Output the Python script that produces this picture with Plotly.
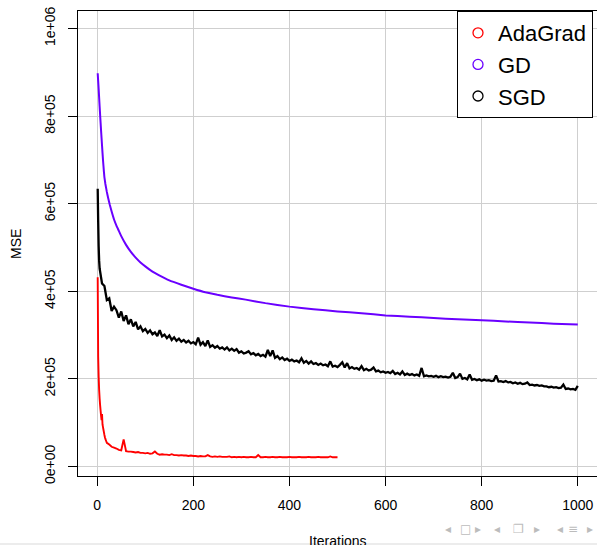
import plotly.graph_objects as go

# ---------------- data (MSE in thousands) ----------------
gd_iter = [1, 2, 3, 4, 5, 6, 7, 8, 9, 10, 11, 12, 13, 14, 15, 17, 20, 23, 26, 30, 35, 40, 45, 50,
           60, 70, 80, 90, 100, 115, 128, 150, 175, 200, 225, 250, 280, 309, 350, 400, 450, 500,
           550, 600, 650, 700, 750, 800, 850, 900, 950, 1000]
gd_mse = [898, 880, 862, 842, 822, 803, 785, 767, 750, 733, 716, 700, 686, 672, 660, 645, 627, 612,
          598, 582, 564, 550, 538, 526, 506, 490, 477, 466, 457, 445, 437, 425, 415, 406, 398, 392,
          386, 381, 373, 365, 359, 354, 350, 345, 342, 339, 336, 334, 331, 329, 326, 324]

sgd_iter = [1, 2, 3, 4] + list(range(5, 1001, 5))
sgd_mse = [634, 560, 503, 470,
           452, 418, 412, 380, 384, 355, 365, 357, 340, 354,
           332, 345, 325, 336, 320, 330, 313, 320, 309, 314,
           305, 311, 302, 306, 298, 311, 297, 301, 293, 299,
           289, 295, 287, 292, 285, 289, 283, 287, 281, 284,
           279, 294, 278, 284, 275, 288, 273, 277, 271, 275,
           269, 272, 267, 272, 265, 269, 264, 268, 260, 263,
           258, 260, 263, 256, 259, 254, 257, 252, 255, 251,
           266, 252, 265, 248, 252, 245, 249, 243, 246, 241,
           244, 240, 242, 238, 247, 237, 241, 235, 240, 234,
           236, 232, 235, 231, 233, 229, 240, 228, 230, 227,
           232, 238, 226, 236, 224, 227, 223, 225, 221, 229,
           220, 223, 219, 221, 226, 217, 219, 215, 217, 214,
           216, 213, 218, 211, 214, 210, 217, 209, 212, 209,
           211, 208, 210, 207, 225, 206, 208, 206, 207, 205,
           207, 204, 206, 204, 205, 203, 205, 214, 202, 204,
           212, 200, 202, 199, 210, 198, 200, 197, 199, 196,
           198, 196, 197, 195, 196, 208, 194, 195, 193, 195,
           192, 193, 190, 192, 189, 191, 188, 189, 192, 186,
           187, 185, 186, 184, 185, 183, 183, 181, 182, 180,
           181, 179, 180, 187, 177, 178, 176, 177, 175, 184]

ada_iter = list(range(1, 21)) + list(range(25, 501, 5))
ada_mse = [432, 250, 205, 175, 155, 140, 128, 116, 106, 120,
           96, 90, 84, 78, 72, 67, 63, 60, 57, 54,
           50, 45, 43, 41, 38, 37, 62, 35, 34, 34,
           33, 32, 33, 31, 31, 30, 31, 29, 30, 34,
           29, 27, 28, 27, 27, 26, 28, 26, 26, 25,
           26, 25, 25, 24, 25, 24, 24, 23, 24, 23,
           23, 26, 23, 22, 23, 22, 23, 22, 22, 22,
           23, 21, 22, 21, 22, 21, 22, 21, 21, 22,
           21, 21, 26, 21, 21, 22, 21, 21, 22, 21,
           21, 22, 21, 21, 21, 22, 21, 21, 21, 22,
           21, 21, 21, 22, 21, 21, 21, 22, 21, 21,
           21, 21, 23, 21, 21, 21]

x_ticks = [0, 200, 400, 600, 800, 1000]
y_ticks = [0, 200000, 400000, 600000, 800000, 1000000]
y_tick_text = ["0e+00", "2e+05", "4e+05", "6e+05", "8e+05", "1e+06"]

series_names = ["AdaGrad", "GD", "SGD"]
series_colors = ["#ff0000", "#6a00ff", "#000000"]
series_widths = [1.9, 2.0, 2.3]

# ---------------- figure ----------------
W, H = 597, 545
L, R, T, B = 78, 0, 11, 69
PW, PH = W - L - R, H - T - B
FONT = "Liberation Sans, Arial, Helvetica, sans-serif"


def px(x):
    return (x - L) / PW


def py(y):
    return (T + PH - y) / PH


fig = go.Figure()
data = [(ada_iter, ada_mse), (gd_iter, gd_mse), (sgd_iter, sgd_mse)]
for name, col, lw, (xs, ys) in zip(series_names, series_colors, series_widths, data):
    line = dict(color=col, width=lw, simplify=False)
    if name == "GD":
        line.update(shape="spline", smoothing=0.3)
    fig.add_trace(go.Scatter(x=xs, y=[v * 1000 for v in ys], mode="lines", line=line,
                             showlegend=False, hoverinfo="skip"))
# legend entries (open circles)
for name, col in zip(series_names, series_colors):
    fig.add_trace(go.Scatter(x=[None], y=[None], mode="markers", name=name,
                             marker=dict(symbol="circle-open", size=10, color=col,
                                         line=dict(color=col, width=1.3))))

axis_common = dict(showgrid=True, gridcolor="#cfcfcf", gridwidth=1, zeroline=False,
                   showline=True, linecolor="black", linewidth=1,
                   ticks="outside", ticklen=9, tickcolor="black", tickwidth=1,
                   tickfont=dict(family=FONT, size=14, color="black"))

fig.update_xaxes(range=[-40, 1040], tickvals=x_ticks, ticktext=[str(v) for v in x_ticks],
                 mirror=True, ticklabelstandoff=7, **axis_common)
fig.update_yaxes(range=[-21700, 1040000], tickvals=y_ticks, ticktext=y_tick_text,
                 tickangle=-90, ticklabelstandoff=7, **axis_common)

fig.add_annotation(text="MSE", x=px(16), y=py(244), xref="paper", yref="paper",
                   textangle=-90, showarrow=False, xanchor="center", yanchor="middle",
                   font=dict(family=FONT, size=14, color="black"))
fig.add_annotation(text="Iterations", x=px(338), y=py(541), xref="paper", yref="paper",
                   showarrow=False, xanchor="center", yanchor="middle",
                   font=dict(family=FONT, size=14, color="black"))

# beamer navigation symbols
nav = [("◂", 448), ("□", 465), ("▸", 478), ("◂", 497), ("❐", 518), ("▸", 537),
       ("◂", 560), ("≡", 573), ("▸", 590)]
for g, xx in nav:
    fig.add_annotation(text=g, x=px(xx), y=py(529), xref="paper", yref="paper",
                       showarrow=False, xanchor="center", yanchor="middle",
                       font=dict(family="DejaVu Sans", size=12, color="#bcbcbc"))
fig.add_shape(type="rect", xref="paper", yref="paper", x0=px(0), x1=px(W),
              y0=py(545), y1=py(543), fillcolor="#ececec", line=dict(width=0), layer="below")

fig.update_layout(
    width=W, height=H,
    margin=dict(l=L, r=R, t=T, b=B, autoexpand=False),
    paper_bgcolor="white", plot_bgcolor="white",
    showlegend=True,
    legend=dict(x=px(457), y=1, xanchor="left", yanchor="top",
                bgcolor="white", bordercolor="black", borderwidth=1,
                font=dict(family=FONT, size=22, color="black"),
                itemclick=False, itemdoubleclick=False),
)

fig.write_html("out.html", config={"displayModeBar": False},
               post_script="document.body.style.margin='0';document.body.style.padding='0';"
                           "document.body.style.overflow='hidden';")
